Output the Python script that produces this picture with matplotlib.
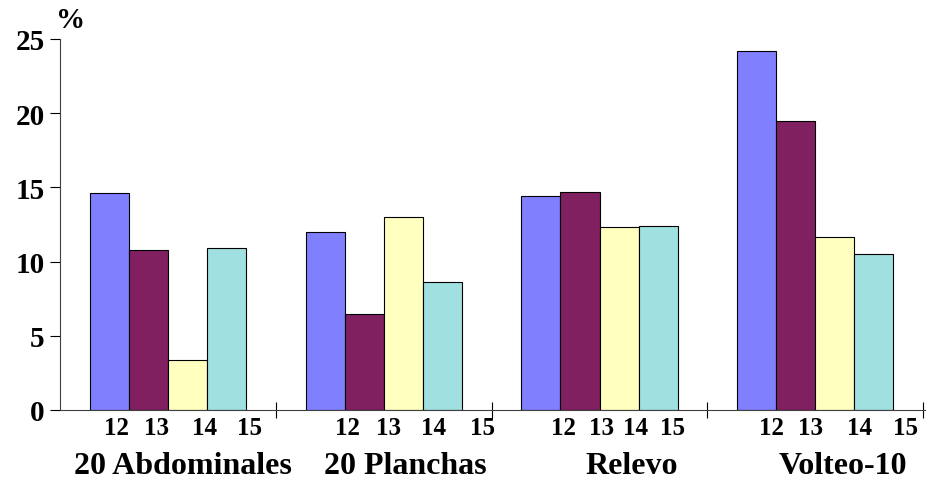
import numpy as np
import matplotlib
matplotlib.use('Agg')
import matplotlib.pyplot as plt

# Data
groups = ['20 Abdominales', '20 Planchas', 'Relevo', 'Volteo-10']
ages = ['12', '13', '14', '15']
age12 = [14.6, 12.0, 14.4, 24.2]
age13 = [10.75, 6.5, 14.7, 19.5]
age14 = [3.35, 13.0, 12.3, 11.65]
age15 = [10.95, 8.6, 12.4, 10.5]
series = [age12, age13, age14, age15]
colors = ['#8080FF', '#802060', '#FFFFC0', '#A0E0E0']

# where the age labels sit inside each group (the original is not evenly spaced)
label_offsets = [
    [0.264, 0.449, 0.672, 0.880],
    [0.330, 0.520, 0.733, 0.956],
    [0.331, 0.507, 0.669, 0.836],
    [0.299, 0.480, 0.703, 0.920],
]

plt.rcParams['font.family'] = 'Liberation Serif'
plt.rcParams['font.weight'] = 'bold'

fig = plt.figure(figsize=(9.26, 4.85), dpi=100)
ax = fig.add_axes([60/926, 74/485, 866/926, 371/485])

bar_w = 0.181
x = np.arange(len(groups)) + 0.5
for i, vals in enumerate(series):
    ax.bar(x + (i - 1.5)*bar_w, vals, width=bar_w, color=colors[i],
           edgecolor='black', linewidth=0.8)

ax.set_xlim(0, 866/215.8)
ax.set_ylim(0, 25)
ax.set_yticks([0, 5, 10, 15, 20, 25])
ax.tick_params(axis='y', direction='out', length=7, width=0.8, labelsize=21, pad=4)
ax.set_xticks([1, 2, 3, 4])
ax.set_xticklabels([])
ax.tick_params(axis='x', direction='inout', length=12, width=0.8)
for s in ['top', 'right']:
    ax.spines[s].set_visible(False)
ax.spines['left'].set_color('#404040')
ax.spines['bottom'].set_color('#404040')
ax.spines['left'].set_linewidth(0.8)
ax.spines['bottom'].set_linewidth(0.8)

for g in range(len(groups)):
    for j, lab in enumerate(ages):
        ax.text(g + label_offsets[g][j], -1.15, lab, ha='center', va='center',
                fontsize=18, fontweight='bold')

group_x = [183, 405, 632, 843]
for gx, name in zip(group_x, groups):
    fig.text(gx/926, 1 - 467/485, name, ha='center', va='center',
             fontsize=23, fontweight='bold')

fig.text(71/926, 1 - 20/485, '%', ha='center', va='center', fontsize=21, fontweight='bold')

plt.savefig('out.png', dpi=100)
